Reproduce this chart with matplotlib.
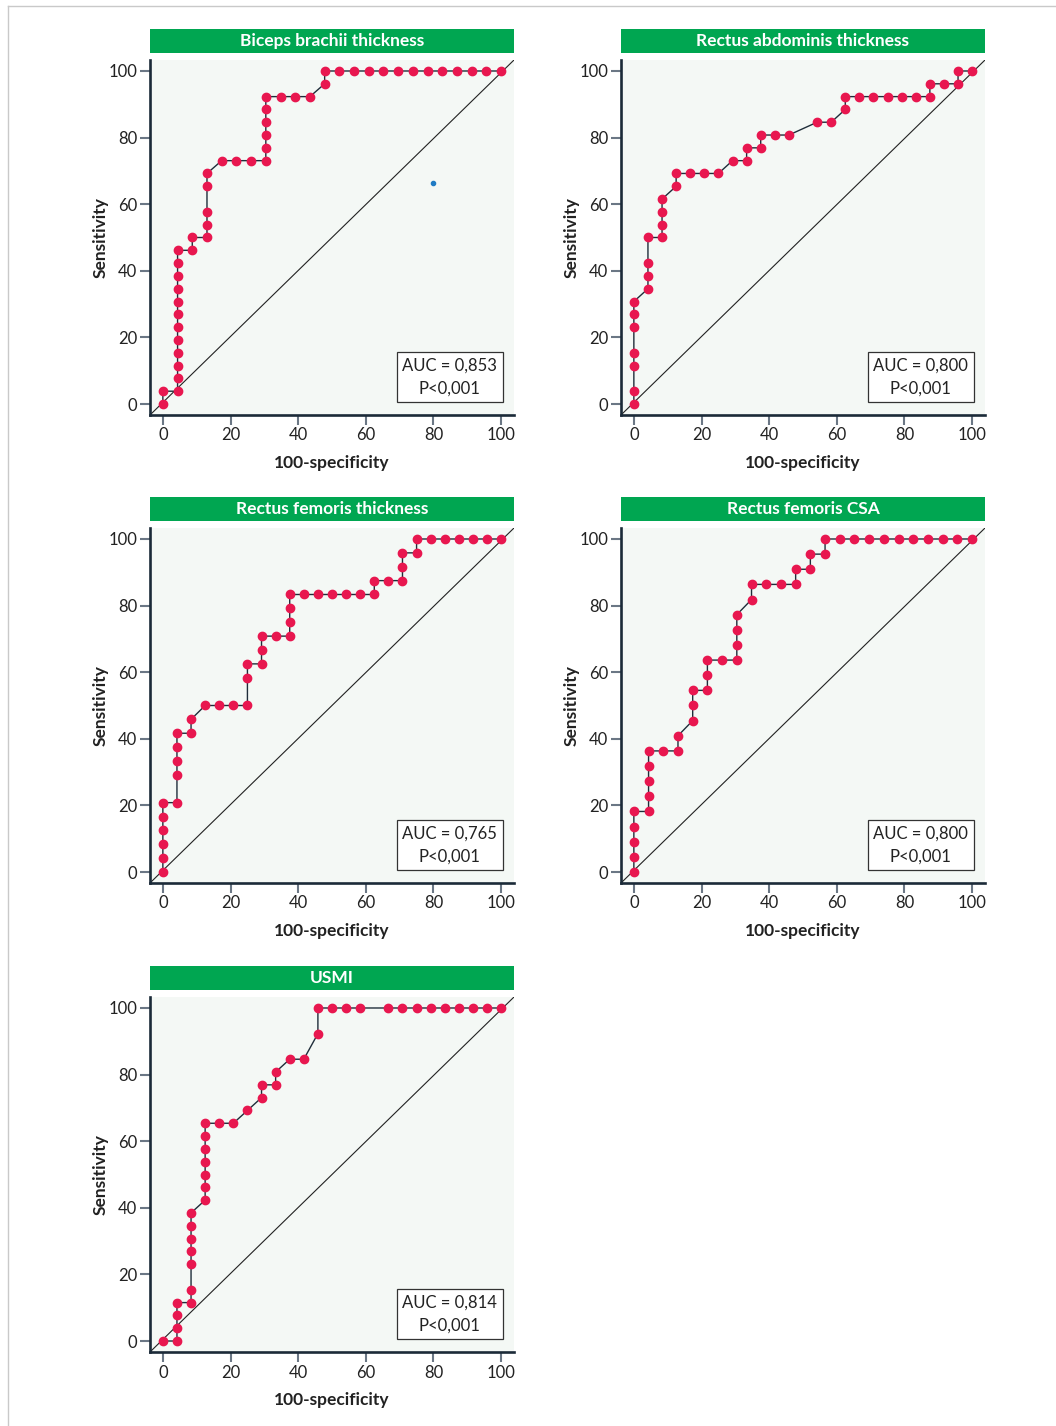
import matplotlib
matplotlib.use('Agg')
import matplotlib.pyplot as plt
from matplotlib.lines import Line2D

plt.rcParams['font.family'] = ['Lato', 'DejaVu Sans']

# -----------------------
# DATA (false positives / true positives counts at each cut-off)
# -----------------------
titles = ["Biceps brachii thickness", "Rectus abdominis thickness",
          "Rectus femoris thickness", "Rectus femoris CSA", "USMI"]
auc_labels = ["0,853", "0,800", "0,765", "0,800", "0,814"]
p_labels = ["P<0,001", "P<0,001", "P<0,001", "P<0,001", "P<0,001"]

n_neg = [23, 24, 24, 23, 24]
n_pos = [26, 26, 24, 22, 26]

biceps_fp = [0, 0, 1, 1, 1, 1, 1, 1, 1, 1, 1, 1, 1, 1, 2, 2, 3, 3, 3, 3, 3, 4, 5, 6, 7, 7, 7, 7, 7, 7,
             8, 9, 10, 11, 11, 12, 13, 14, 15, 16, 17, 18, 19, 20, 21, 22, 23]
biceps_tp = [0, 1, 1, 2, 3, 4, 5, 6, 7, 8, 9, 10, 11, 12, 12, 13, 13, 14, 15, 17, 18, 19, 19, 19, 19, 20, 21, 22, 23, 24,
             24, 24, 24, 25, 26, 26, 26, 26, 26, 26, 26, 26, 26, 26, 26, 26, 26]

abdom_fp = [0, 0, 0, 0, 0, 0, 0, 1, 1, 1, 1, 2, 2, 2, 2, 3, 3, 4, 5, 6, 7, 8, 8, 9, 9, 10, 11,
            13, 14, 15, 15, 16, 17, 18, 19, 20, 21, 21, 22, 23, 23, 24]
abdom_tp = [0, 1, 3, 4, 6, 7, 8, 9, 10, 11, 13, 13, 14, 15, 16, 17, 18, 18, 18, 18, 19, 19, 20, 20, 21, 21, 21,
            22, 22, 23, 24, 24, 24, 24, 24, 24, 24, 25, 25, 25, 26, 26]

rfthick_fp = [0, 0, 0, 0, 0, 0, 1, 1, 1, 1, 1, 2, 2, 3, 4, 5, 6, 6, 6, 7, 7, 7, 8, 9, 9, 9, 9,
              10, 11, 12, 13, 14, 15, 15, 16, 17, 17, 17, 18, 18, 19, 20, 21, 22, 23, 24]
rfthick_tp = [0, 1, 2, 3, 4, 5, 5, 7, 8, 9, 10, 10, 11, 12, 12, 12, 12, 14, 15, 15, 16, 17, 17, 17, 18, 19, 20,
              20, 20, 20, 20, 20, 20, 21, 21, 21, 22, 23, 23, 24, 24, 24, 24, 24, 24, 24]

rfcsa_fp = [0, 0, 0, 0, 0, 1, 1, 1, 1, 1, 2, 3, 3, 4, 4, 4, 5, 5, 5, 6, 7, 7, 7, 7, 8, 8, 9, 10, 11, 11,
            12, 12, 13, 13, 14, 15, 16, 17, 18, 19, 20, 21, 22, 23]
rfcsa_tp = [0, 1, 2, 3, 4, 4, 5, 6, 7, 8, 8, 8, 9, 10, 11, 12, 12, 13, 14, 14, 14, 15, 16, 17, 18, 19, 19, 19, 19, 20,
            20, 21, 21, 22, 22, 22, 22, 22, 22, 22, 22, 22, 22, 22]

usmi_fp = [0, 1, 1, 1, 1, 2, 2, 2, 2, 2, 2, 2, 3, 3, 3, 3, 3, 3, 3, 4, 5, 6, 7, 7, 8, 8, 9, 10,
           11, 11, 12, 13, 14, 16, 17, 18, 19, 20, 21, 22, 23, 24]
usmi_tp = [0, 0, 1, 2, 3, 3, 4, 6, 7, 8, 9, 10, 11, 12, 13, 14, 15, 16, 17, 17, 17, 18, 19, 20, 20, 21, 22, 22,
           24, 26, 26, 26, 26, 26, 26, 26, 26, 26, 26, 26, 26, 26]

fp_lists = [biceps_fp, abdom_fp, rfthick_fp, rfcsa_fp, usmi_fp]
tp_lists = [biceps_tp, abdom_tp, rfthick_tp, rfcsa_tp, usmi_tp]

# stray blue dot visible in the first panel
stray_x = [80]
stray_y = [66.5]

# -----------------------
# STYLE
# -----------------------
GREEN = "#00a651"
BG = "#f4f8f5"
SPINE = "#1b2a38"
TICK = "#6b7785"
RED = "#e8174f"
LINE = "#1f2d3a"

W, H = 1056, 1426
fig = plt.figure(figsize=(W / 100, H / 100), dpi=100)

# page frame
fig.add_artist(Line2D([8 / W, 1], [1 - 6 / H, 1 - 6 / H], color="#c9c9c9", lw=1))
fig.add_artist(Line2D([8 / W, 8 / W], [0, 1 - 6 / H], color="#c9c9c9", lw=1))

# pixel boxes: (left, top) of each axes
boxes = [(150, 60), (621, 60), (150, 528), (621, 528), (150, 997)]
AX_W, AX_H = 364, 355
XLIM = (-3.8, 103.8)
YLIM = (-3.3, 103.3)

for i, (px, py) in enumerate(boxes):
    ax = fig.add_axes([px / W, 1 - (py + AX_H) / H, AX_W / W, AX_H / H])
    ax.set_facecolor(BG)

    fpr = [100 * f / n_neg[i] for f in fp_lists[i]]
    tpr = [100 * t / n_pos[i] for t in tp_lists[i]]

    # chance line, corner to corner of the plot area
    ax.plot([0, 1], [0, 1], transform=ax.transAxes, color="#222222", lw=0.8, zorder=1)
    ax.plot(fpr, tpr, color=LINE, lw=1.0, zorder=2)
    ax.plot(fpr, tpr, "o", color=RED, ms=6, mec=RED, zorder=3)
    if i == 0:
        ax.plot(stray_x, stray_y, "o", color="#1f7bc4", ms=3, zorder=3)

    ax.set_xlim(*XLIM)
    ax.set_ylim(*YLIM)
    ax.set_xticks([0, 20, 40, 60, 80, 100])
    ax.set_yticks([0, 20, 40, 60, 80, 100])
    ax.tick_params(length=7, width=1.5, color=TICK, labelsize=12,
                   labelcolor="#222222", pad=2)

    for s in ["top", "right"]:
        ax.spines[s].set_visible(False)
    for s in ["left", "bottom"]:
        ax.spines[s].set_color(SPINE)
        ax.spines[s].set_linewidth(1.9)

    ax.set_xlabel("100-specificity", fontsize=12.5, fontweight="bold", color="#222222")
    ax.set_ylabel("Sensitivity", fontsize=12.5, fontweight="bold", color="#222222")
    ax.xaxis.set_label_coords(0.5, -0.113)
    ax.yaxis.set_label_coords(-0.113, 0.5)

    ax.text(0.824, 0.107, f"AUC = {auc_labels[i]}\n{p_labels[i]}", transform=ax.transAxes,
            ha="center", va="center", fontsize=12, color="#222222", linespacing=1.5,
            bbox=dict(boxstyle="square,pad=0.33", fc="white", ec="#333333", lw=0.9), zorder=4)

    # green title bar
    tb = fig.add_axes([px / W, 1 - (py - 7) / H, AX_W / W, 24 / H])
    tb.set_facecolor(GREEN)
    tb.set_xticks([])
    tb.set_yticks([])
    for s in tb.spines.values():
        s.set_visible(False)
    tb.text(0.5, 0.48, titles[i], ha="center", va="center", color="white",
            fontsize=12.5, fontweight="bold")

fig.savefig("out.png", dpi=100)
